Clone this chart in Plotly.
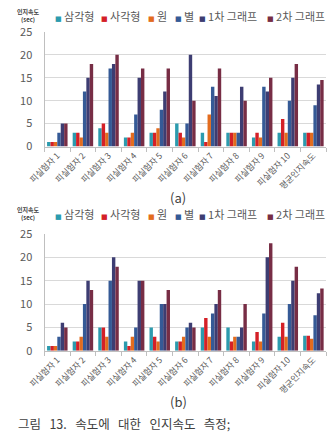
import plotly.graph_objects as go

categories = ["피실험자 1", "피실험자 2", "피실험자 3", "피실험자 4", "피실험자 5",
              "피실험자 6", "피실험자 7", "피실험자 8", "피실험자 9", "피실험자 10", "평균인지속도"]
series_names = ["삼각형", "사각형", "원", "별", "1차 그래프", "2차 그래프"]
colors = ["#2C9BAE", "#D42027", "#E36C1E", "#355A96", "#3D3D72", "#772D45"]

# chart (a)
a_triangle = [1, 3, 4, 2, 3, 5, 3, 3, 2, 3, 3]
a_square   = [1, 3, 5, 2, 3, 3, 1, 3, 3, 6, 3]
a_circle   = [1, 2, 3, 3, 4, 2, 7, 3, 2, 3, 3]
a_star     = [3, 12, 17, 7, 8, 5, 13, 3, 13, 10, 9]
a_graph1   = [5, 15, 18, 15, 12, 20, 11, 13, 12, 15, 13.5]
a_graph2   = [5, 18, 20, 17, 17, 10, 17, 10, 15, 18, 14.5]

# chart (b)
b_triangle = [1, 2, 5, 2, 5, 2, 5, 5, 2, 3, 3.2]
b_square   = [1, 2, 5, 1, 3, 2, 7, 2, 4, 6, 3.2]
b_circle   = [1, 3, 3, 3, 2, 3, 3, 3, 2, 3, 2.6]
b_star     = [3, 10, 15, 5, 10, 5, 8, 3, 8, 10, 7.6]
b_graph1   = [6, 15, 20, 15, 10, 6, 10, 5, 20, 15, 12.3]
b_graph2   = [5, 13, 18, 15, 13, 5, 13, 10, 23, 18, 13.3]

y_ticks = [0, 5, 10, 15, 20, 25]
axis_title = "인지속도<br>(sec)"
caption_words = ["그림", "13.", "속도에", "대한", "인지속도", "측정;"]

FONT = "Noto Sans CJK KR"
GRAY = "#595959"

data_a = [a_triangle, a_square, a_circle, a_star, a_graph1, a_graph2]
data_b = [b_triangle, b_square, b_circle, b_star, b_graph1, b_graph2]

fig = go.Figure()
for name, col, vals in zip(series_names, colors, data_a):
    fig.add_trace(go.Bar(x=categories, y=vals, name=name, marker_color=col,
                         marker_line_width=0, xaxis="x", yaxis="y", showlegend=False))
for name, col, vals in zip(series_names, colors, data_b):
    fig.add_trace(go.Bar(x=categories, y=vals, name=name, marker_color=col,
                         marker_line_width=0, xaxis="x2", yaxis="y2", showlegend=False))

W, H = 330, 446
xdom = [29 / W, 326 / W]

def yaxis_cfg(top_px, bottom_px, anchor):
    return dict(domain=[1 - bottom_px / H, 1 - top_px / H], range=[0, 25], tickvals=y_ticks,
                showgrid=True, gridcolor="#D9D9D9", gridwidth=1, zeroline=False,
                showline=True, linecolor="#BFBFBF", linewidth=1, ticks="",
                ticklabelstandoff=9, tickfont=dict(family=FONT, size=11, color=GRAY),
                anchor=anchor, fixedrange=True)

def xaxis_cfg(anchor):
    return dict(domain=xdom, anchor=anchor, showline=True, linecolor="#BFBFBF", linewidth=1,
                ticks="outside", tickson="boundaries", ticklen=4, tickcolor="#BFBFBF",
                tickangle=-45, tickfont=dict(family=FONT, size=8.5, color=GRAY),
                showgrid=False, fixedrange=True)

fig.update_layout(
    width=W, height=H, margin=dict(l=0, r=0, t=0, b=0),
    paper_bgcolor="white", plot_bgcolor="white",
    barmode="group", bargap=0.2, bargroupgap=0,
    font=dict(family=FONT, color=GRAY),
    xaxis=xaxis_cfg("y"), yaxis=yaxis_cfg(23.6, 142.7, "x"),
    xaxis2=xaxis_cfg("y2"), yaxis2=yaxis_cfg(233.3, 354.5, "x2"),
    showlegend=False,
)

annotations = []
legend_sq_x = [39, 88, 137, 165, 191, 262]
for legend_y in [7.5, 213]:
    for sx, name, col in zip(legend_sq_x, series_names, colors):
        txt = ("<span style='color:%s;font-size:7px;font-family:DejaVu Sans'>■</span> %s"
               % (col, name))
        annotations.append(dict(x=sx / W, y=1 - legend_y / H, xref="paper", yref="paper",
                                text=txt, showarrow=False, xanchor="left", yanchor="middle",
                                borderpad=0,
                                font=dict(family=FONT, size=11, color=GRAY)))
for ty in [6.5, 212]:
    annotations.append(dict(x=12.5 / W, y=1 - ty / H, xref="paper", yref="paper",
                            text="<b>" + axis_title + "</b>", showarrow=False,
                            xanchor="center", yanchor="middle", borderpad=0,
                            font=dict(family=FONT, size=6, color="#404040")))
annotations.append(dict(x=170 / W, y=1 - 195 / H, xref="paper", yref="paper", text="(a)",
                        showarrow=False, xanchor="center", yanchor="middle",
                        font=dict(family=FONT, size=13, color="#404040")))
annotations.append(dict(x=170 / W, y=1 - 407 / H, xref="paper", yref="paper", text="(b)",
                        showarrow=False, xanchor="center", yanchor="middle",
                        font=dict(family=FONT, size=13, color="#404040")))
caption = "&nbsp;&nbsp;&nbsp;".join(caption_words)
annotations.append(dict(x=0, y=1 - 430 / H, xref="paper", yref="paper", text=caption,
                        showarrow=False, xanchor="left", yanchor="middle", borderpad=0,
                        font=dict(family=FONT, size=12.5, color="#404040")))
fig.update_layout(annotations=annotations)

fig.write_html("out.html")
